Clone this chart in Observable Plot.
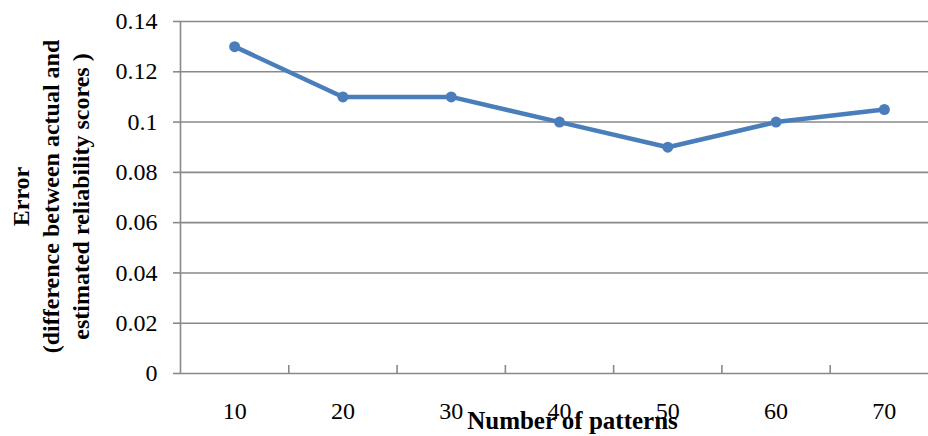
<!DOCTYPE html>
<html>
<head>
<meta charset="utf-8">
<script src="https://cdn.jsdelivr.net/npm/d3@7"></script>
<script src="https://cdn.jsdelivr.net/npm/@observablehq/plot@0.6"></script>
<style>
  html, body { margin: 0; padding: 0; background: #fff; overflow: hidden; }
  #chart { width: 928px; height: 436px; overflow: hidden; }
  #chart svg, #chart svg text { font-family: "Liberation Serif", "Times New Roman", serif !important; }
</style>
</head>
<body>
<div id="chart"></div>
<script>
// Data
const patterns = [10, 20, 30, 40, 50, 60, 70];
const errors = [0.13, 0.11, 0.11, 0.10, 0.09, 0.10, 0.105];
const yTicks = [0, 0.02, 0.04, 0.06, 0.08, 0.10, 0.12, 0.14];
const categoryBounds = [15, 25, 35, 45, 55, 65];
const yTitle = "Error\n(difference between actual and\nestimated reliability scores )";
const xTitle = "Number of patterns";

const data = patterns.map((p, i) => ({ p, e: errors[i] }));

const FONT = "Liberation Serif, Times New Roman, serif";
const GRID = "#898989";
const BLUE = "#4A7EBB";

const chart = Plot.plot({
  width: 928,
  height: 436,
  marginLeft: 180,
  marginRight: -10,
  marginTop: 21,
  marginBottom: 63,
  style: { background: "white", overflow: "visible" },
  x: { domain: [5, 75], axis: null },
  y: { domain: [0, 0.14], axis: null },
  marks: [
    Plot.ruleY(yTicks, { stroke: GRID, strokeWidth: 1.6 }),
    Plot.axisY({
      ticks: yTicks,
      tickSize: 7,
      tickPadding: 16,
      stroke: GRID,
      strokeWidth: 1.6,
      strokeOpacity: 1,
      fontSize: 24,
      fontFamily: FONT,
      fill: "#000",
      label: null,
      tickFormat: d => String(+d.toFixed(2))
    }),
    Plot.ruleX([5], { stroke: GRID, strokeWidth: 1.6 }),
    Plot.axisX({
      ticks: categoryBounds,
      tickSize: 8,
      dy: -8,
      stroke: GRID,
      strokeWidth: 1.6,
      strokeOpacity: 1,
      tickFormat: () => "",
      label: null
    }),
    Plot.axisX({
      ticks: patterns,
      tickSize: 0,
      tickPadding: 28,
      fontSize: 24,
      fontFamily: FONT,
      fill: "#000",
      label: null,
      tickFormat: d => String(d)
    }),
    Plot.line(data, { x: "p", y: "e", stroke: BLUE, strokeWidth: 4.5, strokeLinejoin: "round" }),
    Plot.dot(data, { x: "p", y: "e", r: 5.5, fill: BLUE, stroke: "none" }),
    Plot.text([yTitle], {
      frameAnchor: "left",
      dx: -131,
      dy: -1,
      rotate: -90,
      fontSize: 24,
      fontFamily: FONT,
      fontWeight: "bold",
      lineHeight: 1.24,
      textAnchor: "middle",
      lineAnchor: "middle",
      fill: "#000"
    }),
    Plot.text([xTitle], {
      frameAnchor: "bottom",
      dx: 13,
      dy: 47,
      fontSize: 25,
      fontFamily: FONT,
      fontWeight: "bold",
      textAnchor: "middle",
      lineAnchor: "middle",
      fill: "#000"
    })
  ]
});

document.getElementById("chart").appendChild(chart);
</script>
</body>
</html>
